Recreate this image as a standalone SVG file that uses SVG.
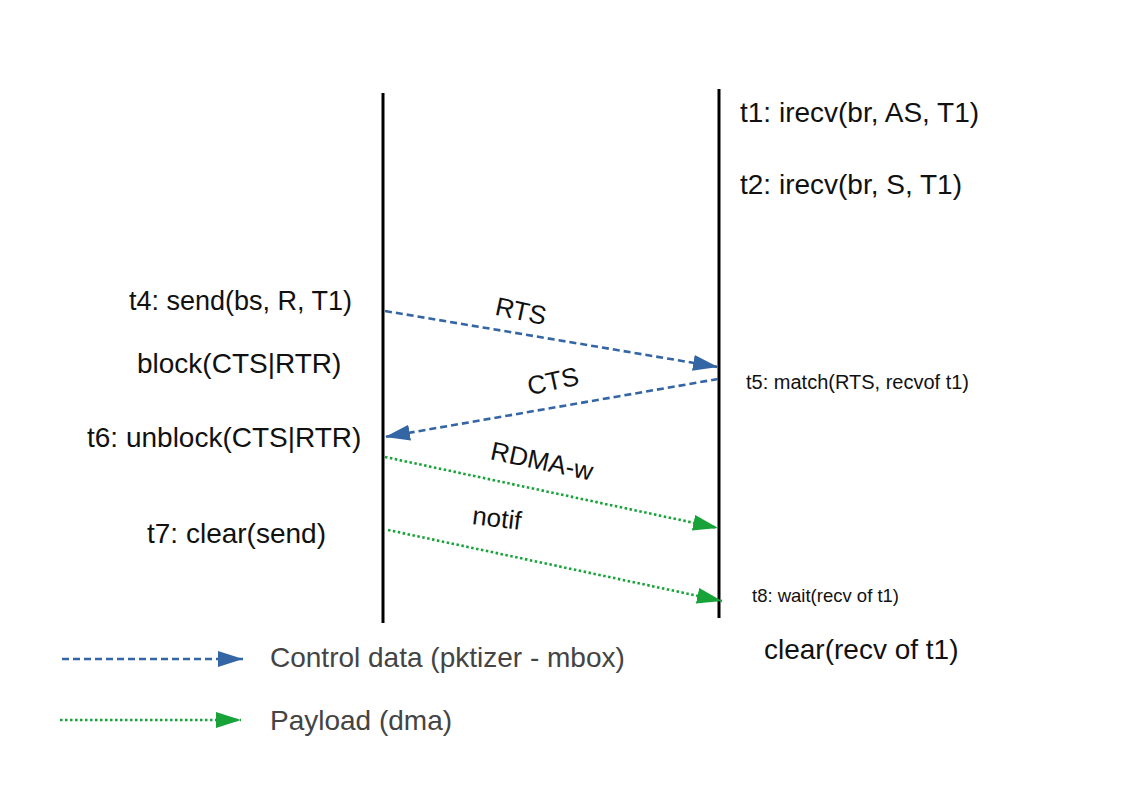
<svg xmlns="http://www.w3.org/2000/svg" width="1141" height="798" viewBox="0 0 1141 798">
  <style>
    text { font-family: "Liberation Sans", Arial, sans-serif; fill: #111; }
    .big { font-size: 28px; }
    .mid { font-size: 26px; }
    .send { font-size: 27px; }
    .small5 { font-size: 20px; }
    .small8 { font-size: 18.5px; }
    .legend { font-size: 28px; fill: #444; }
    .life { stroke: #000; stroke-width: 3; }
    .ctl { stroke: #3465a4; stroke-width: 2.6; stroke-dasharray: 7 4; fill: none; }
    .pay { stroke: #18a339; stroke-width: 2.6; stroke-dasharray: 2.5 2.5; fill: none; }
  </style>
  <defs>
    <marker id="arrBlue" markerUnits="userSpaceOnUse" markerWidth="25" markerHeight="16" refX="25" refY="8" orient="auto">
      <path d="M0,0 L25,8 L0,16 z" fill="#3465a4"/>
    </marker>
    <marker id="arrGreen" markerUnits="userSpaceOnUse" markerWidth="25" markerHeight="16" refX="25" refY="8" orient="auto">
      <path d="M0,0 L25,8 L0,16 z" fill="#18a339"/>
    </marker>
  </defs>

  <rect width="1141" height="798" fill="#ffffff"/>

  <!-- lifelines -->
  <g id="sender">
    <line class="life" x1="383" y1="93" x2="383" y2="623"/>
    <text class="send" x="129" y="310">t4: send(bs, R, T1)</text>
    <text class="big" x="137" y="373">block(CTS|RTR)</text>
    <text class="big" x="87" y="447">t6: unblock(CTS|RTR)</text>
    <text class="big" x="147" y="543">t7: clear(send)</text>
  </g>
  <g id="receiver">
    <line class="life" x1="719" y1="89" x2="719" y2="618"/>
    <text class="big" x="740" y="122">t1: irecv(br, AS, T1)</text>
    <text class="big" x="740" y="194">t2: irecv(br, S, T1)</text>
    <text class="small5" x="746" y="389">t5: match(RTS, recvof t1)</text>
    <text class="small8" x="752" y="602">t8: wait(recv of t1)</text>
    <text class="big" x="764" y="659">clear(recv of t1)</text>
  </g>

  <!-- messages -->
  <g id="connectors">
    <line class="ctl" x1="385" y1="311" x2="718" y2="367" marker-end="url(#arrBlue)"/>
    <line class="ctl" x1="718" y1="379" x2="385" y2="437" marker-end="url(#arrBlue)"/>
    <line class="pay" x1="385" y1="457" x2="718" y2="528" marker-end="url(#arrGreen)"/>
    <line class="pay" x1="388" y1="530" x2="722" y2="601" marker-end="url(#arrGreen)"/>
  </g>
  <g id="message-labels">
    <text class="mid" text-anchor="middle" transform="translate(521,311) rotate(12)" y="9">RTS</text>
    <text class="mid" text-anchor="middle" transform="translate(553,381) rotate(-12)" y="9">CTS</text>
    <text class="mid" text-anchor="middle" transform="translate(542,461) rotate(12)" y="9">RDMA-w</text>
    <text class="mid" text-anchor="middle" transform="translate(497,518) rotate(7)" y="9">notif</text>
  </g>

  <!-- legend -->
  <g id="legend">
    <line class="ctl" x1="62" y1="659" x2="243" y2="659" marker-end="url(#arrBlue)"/>
    <text class="legend" x="270" y="667">Control data (pktizer - mbox)</text>
    <line class="pay" x1="60" y1="720" x2="241" y2="720" marker-end="url(#arrGreen)"/>
    <text class="legend" x="270" y="730">Payload (dma)</text>
  </g>
</svg>
